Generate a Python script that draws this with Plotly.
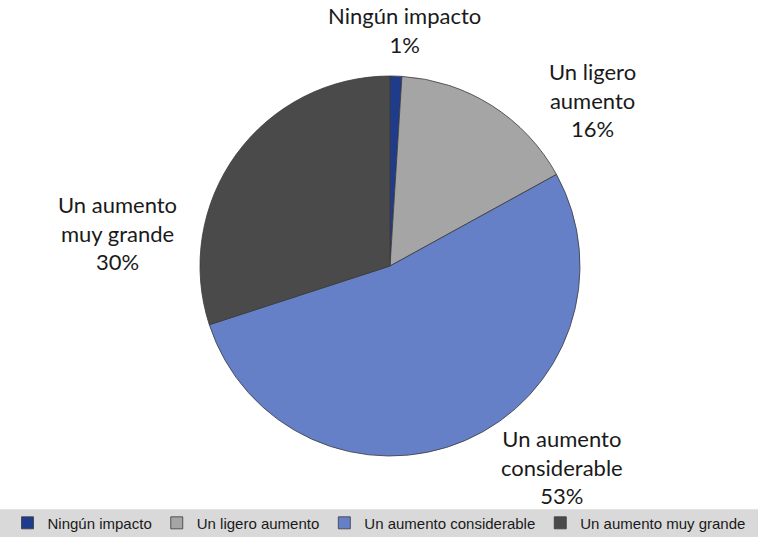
import textwrap

import plotly.graph_objects as go

categories = ["Ningún impacto", "Un ligero aumento", "Un aumento considerable", "Un aumento muy grande"]
values = [1, 16, 53, 30]
colors = ["#1f3b8c", "#a5a5a5", "#6680c8", "#4a4a4a"]

# label layout: wrap width and centre (paper coords) for each outside label
label_wrap = [14, 10, 12, 12]
label_pos = [(404 / 758, 1 - 30 / 540), (592 / 758, 1 - 101 / 540),
             (562 / 758, 1 - 470 / 540), (117 / 758, 1 - 234 / 540)]

W, H = 758, 540

fig = go.Figure()
fig.add_trace(
    go.Pie(
        labels=categories,
        values=values,
        sort=False,
        direction="clockwise",
        rotation=0,
        marker=dict(colors=colors, line=dict(color="#3a3a3a", width=0.8)),
        textinfo="none",
        hoverinfo="label+percent",
        domain=dict(x=[200 / W, 580 / W], y=[1 - 459 / H, 1 - 76 / H]),
        showlegend=True,
    )
)

total = sum(values)
for name, val, wrap, (x, y) in zip(categories, values, label_wrap, label_pos):
    text = "<br>".join(textwrap.wrap(name, wrap)) + f"<br>{round(val / total * 100)}%"
    fig.add_annotation(
        x=x, y=y, xref="paper", yref="paper",
        xanchor="center", yanchor="middle",
        text=text, showarrow=False,
        font=dict(family="Lato, Open Sans, sans-serif", size=22, color="#1a1a1a"),
        align="center",
    )

# grey band behind the legend
fig.add_shape(
    type="rect", xref="paper", yref="paper",
    x0=0, x1=1, y0=0, y1=28 / H,
    fillcolor="#d9d9d9", line=dict(width=0), layer="below",
)

fig.update_layout(
    width=W,
    height=H,
    margin=dict(l=0, r=0, t=0, b=0),
    paper_bgcolor="white",
    plot_bgcolor="white",
    legend=dict(
        orientation="h",
        xanchor="center",
        x=0.5,
        yanchor="middle",
        y=14 / H,
        bgcolor="rgba(0,0,0,0)",
        font=dict(family="Liberation Sans, Arial, sans-serif", size=15, color="#1a1a1a"),
        itemwidth=30,
        traceorder="normal",
    ),
)

fig.write_html(
    "out.html",
    config={"displayModeBar": False},
    post_script="document.body.style.margin='0';",
)
